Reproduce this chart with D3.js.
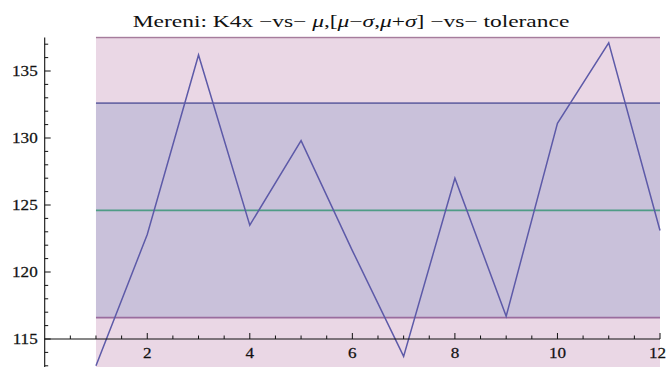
<!DOCTYPE html>
<html>
<head>
<meta charset="utf-8">
<script src="https://cdn.jsdelivr.net/npm/d3@7"></script>
<style>
  html, body { margin: 0; padding: 0; background: #fff; }
  svg { display: block; }
  text { font-family: "Liberation Serif", "DejaVu Serif", serif; }
</style>
</head>
<body>
<svg id="chart" width="667" height="367"></svg>
<script>
// Measurements K4x, sample index 1..12
const sampleIndex = [1, 2, 3, 4, 5, 6, 7, 8, 9, 10, 11, 12];
const k4xValues = [113.0, 122.8, 136.2, 123.5, 129.8, 121.6, 113.7, 127.0, 116.7, 131.1, 137.1, 123.1];

// Statistics and tolerance limits
const meanValue = [124.6];
const sigmaBand = [116.6, 132.6];
const toleranceBand = [112.5, 137.5];

// Axis ticks
const xMajorTicks = [2, 4, 6, 8, 10, 12];
const yMajorTicks = [115, 120, 125, 130, 135];

const svg = d3.select("#chart");
const W = 667, H = 367;
const textStretch = 1.14;   // glyphs are drawn slightly widened
const titleStretch = 1.38;

const x = d3.scaleLinear().domain([0, 12]).range([44.7, 660]);
const y = d3.scaleLinear().domain([115, 135]).range([339, 71]);

svg.append("defs").append("clipPath").attr("id", "plotClip")
  .append("rect").attr("x", 0).attr("y", y(137.6)).attr("width", W).attr("height", H);

const plot = svg.append("g").attr("clip-path", "url(#plotClip)");

const xStart = d3.min(sampleIndex), xEnd = d3.max(sampleIndex);

// tolerance band
plot.append("rect")
  .attr("x", x(xStart)).attr("width", x(xEnd) - x(xStart))
  .attr("y", y(toleranceBand[1])).attr("height", y(toleranceBand[0]) - y(toleranceBand[1]))
  .attr("fill", "#ead7e5");

// mu +/- sigma band
plot.append("rect")
  .attr("x", x(xStart)).attr("width", x(xEnd) - x(xStart))
  .attr("y", y(sigmaBand[1])).attr("height", y(sigmaBand[0]) - y(sigmaBand[1]))
  .attr("fill", "#c9c1da");

const hLine = (v, color, w) => plot.append("line")
  .attr("x1", x(xStart)).attr("x2", x(xEnd))
  .attr("y1", y(v)).attr("y2", y(v))
  .attr("stroke", color).attr("stroke-width", w);

hLine(toleranceBand[1], "#a67c9c", 1.6);
hLine(toleranceBand[0], "#a67c9c", 1.6);
hLine(sigmaBand[1], "#6c6aa6", 1.6);
hLine(sigmaBand[0], "#9a6c9e", 1.8);
hLine(meanValue[0], "#4f9c86", 1.6);

// axes
const axes = svg.append("g").attr("stroke", "#111").attr("fill", "none");
axes.append("line").attr("x1", x(0)).attr("x2", x(12)).attr("y1", y(115)).attr("y2", y(115)).attr("stroke-width", 1.1);
axes.append("line").attr("x1", x(0)).attr("x2", x(0)).attr("y1", y(137.5)).attr("y2", H).attr("stroke-width", 1.1);

const xMinor = d3.range(0.5, 12.01, 0.5).filter(v => !xMajorTicks.includes(v));
xMinor.forEach(v => axes.append("line").attr("x1", x(v)).attr("x2", x(v)).attr("y1", y(115)).attr("y2", y(115) - 3.5).attr("stroke-width", 1));
xMajorTicks.forEach(v => axes.append("line").attr("x1", x(v)).attr("x2", x(v)).attr("y1", y(115)).attr("y2", y(115) - 6).attr("stroke-width", 1));

const yMinor = d3.range(113, 138, 1).filter(v => !yMajorTicks.includes(v));
yMinor.forEach(v => axes.append("line").attr("x1", x(0)).attr("x2", x(0) + 3.5).attr("y1", y(v)).attr("y2", y(v)).attr("stroke-width", 1));
yMajorTicks.forEach(v => axes.append("line").attr("x1", x(0)).attr("x2", x(0) + 6).attr("y1", y(v)).attr("y2", y(v)).attr("stroke-width", 1));

// x tick labels; the last one is kept inside the right edge
const lastX = xMajorTicks[xMajorTicks.length - 1];
svg.append("g").selectAll("text").data(xMajorTicks).join("text")
  .attr("transform", d => d === lastX
    ? `translate(${W - 1},${y(115) + 19}) scale(${textStretch},1)`
    : `translate(${x(d)},${y(115) + 19}) scale(${textStretch},1)`)
  .attr("text-anchor", d => d === lastX ? "end" : "middle")
  .attr("font-size", 15).attr("fill", "#111")
  .attr("stroke", "#111").attr("stroke-width", 0.25)
  .text(d => d);

svg.append("g").selectAll("text").data(yMajorTicks).join("text")
  .attr("transform", d => `translate(${x(0) - 7},${y(d) + 5}) scale(${textStretch},1)`)
  .attr("text-anchor", "end").attr("font-size", 15).attr("fill", "#111")
  .attr("stroke", "#111").attr("stroke-width", 0.25)
  .text(d => d);

// data line
const line = d3.line().x((d, i) => x(sampleIndex[i])).y(d => y(d));
plot.append("path")
  .datum(k4xValues)
  .attr("d", line)
  .attr("fill", "none")
  .attr("stroke", "#5d5aa8")
  .attr("stroke-width", 1.5)
  .attr("stroke-linejoin", "miter");

// title
const title = svg.append("text")
  .attr("transform", `translate(351,26.5) scale(${titleStretch},1)`)
  .attr("text-anchor", "middle").attr("font-size", 17).attr("fill", "#111");
title.append("tspan").text("Mereni: K4x \u2212vs\u2212 ");
title.append("tspan").attr("font-style", "italic").text("\u03bc");
title.append("tspan").text(",[");
title.append("tspan").attr("font-style", "italic").text("\u03bc");
title.append("tspan").text("\u2212");
title.append("tspan").attr("font-style", "italic").text("\u03c3");
title.append("tspan").text(",");
title.append("tspan").attr("font-style", "italic").text("\u03bc");
title.append("tspan").text("+");
title.append("tspan").attr("font-style", "italic").text("\u03c3");
title.append("tspan").text("] \u2212vs\u2212 tolerance");
</script>
</body>
</html>
